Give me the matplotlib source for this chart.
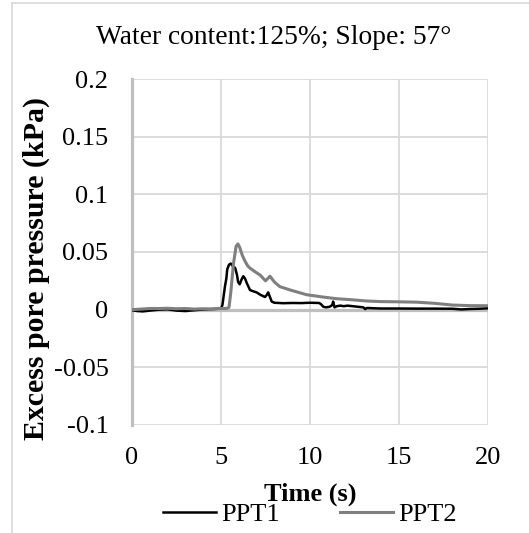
import matplotlib
matplotlib.use("Agg")
import matplotlib.pyplot as plt
from matplotlib.lines import Line2D

plt.rcParams['font.family'] = ['Liberation Serif', 'DejaVu Serif']

title = "Water content:125%; Slope: 57°"
xlabel = "Time (s)"
ylabel = "Excess pore pressure (kPa)"
xticks = [0, 5, 10, 15, 20]
yticks = [-0.1, -0.05, 0, 0.05, 0.1, 0.15, 0.2]
ytick_labels = ["-0.1", "-0.05", "0", "0.05", "0.1", "0.15", "0.2"]

ppt1_t = [0.0, 0.3, 0.6, 1.0, 1.5, 2.0, 2.5, 3.0, 3.5, 4.0, 4.5, 5.0, 5.08, 5.15, 5.22,
          5.3, 5.35, 5.45, 5.55, 5.65, 5.8, 5.9, 5.96, 6.05, 6.15, 6.25, 6.35, 6.45,
          6.63, 6.8, 7.0, 7.2, 7.47, 7.58, 7.65, 7.75, 7.85, 8.0, 8.5, 9.0, 9.5, 10.0,
          10.5, 10.6, 10.75, 10.9, 11.1, 11.25, 11.3, 11.38, 11.5, 11.7, 11.9, 12.1,
          12.4, 12.7, 13.0, 13.1, 13.2, 13.6, 14.0, 15.0, 16.0, 17.0, 18.0, 18.5,
          19.0, 19.5, 20.0]
ppt1_v = [-0.0005, -0.0012, -0.0015, -0.0008, 0.0, 0.0003, -0.0008, -0.0012, -0.0005,
          0.0002, 0.0005, 0.001, 0.004, 0.012, 0.02, 0.027, 0.035, 0.039, 0.040, 0.038,
          0.036, 0.03, 0.024, 0.022, 0.026, 0.029, 0.027, 0.023, 0.017, 0.016, 0.015,
          0.013, 0.011, 0.013, 0.015, 0.011, 0.007, 0.006, 0.0056, 0.0058, 0.0057,
          0.006, 0.0058, 0.005, 0.0025, 0.002, 0.0025, 0.004, 0.007, 0.002, 0.003,
          0.0035, 0.003, 0.0035, 0.003, 0.0025, 0.002, 0.0005, 0.0015, 0.0012, 0.001,
          0.001, 0.0009, 0.0009, 0.0008, 0.0002, 0.0006, 0.0008, 0.0012]

ppt2_t = [0.0, 0.5, 1.0, 1.5, 2.0, 2.5, 3.0, 3.5, 4.0, 4.5, 5.0, 5.3, 5.45, 5.55, 5.7,
          5.85, 5.95, 6.05, 6.2, 6.35, 6.5, 6.63, 6.9, 7.2, 7.5, 7.75, 8.0, 8.3, 8.9,
          9.8, 10.7, 11.5, 12.25, 13.2, 14.0, 15.0, 16.0, 17.0, 18.0, 19.0, 20.0]
ppt2_v = [0.0, 0.0005, 0.001, 0.001, 0.0012, 0.0008, 0.001, 0.0005, 0.0008, 0.0006,
          0.001, 0.001, 0.002, 0.015, 0.04, 0.055, 0.057, 0.054, 0.047, 0.042, 0.038,
          0.036, 0.033, 0.030, 0.025, 0.029, 0.024, 0.020, 0.017, 0.013, 0.011,
          0.0095, 0.0087, 0.0075, 0.007, 0.0068, 0.0065, 0.0055, 0.004, 0.0035, 0.0034]

W, H = 529, 533
fig = plt.figure(figsize=(W / 100, H / 100), dpi=100)
ax = fig.add_axes([132 / W, 1 - 425 / H, (488 - 132) / W, (425 - 79) / H])

grid_c = '#d9d9d9'
for yv in yticks:
    if yv != 0:
        ax.axhline(yv, color=grid_c, lw=1.3, zorder=0)
for xv in xticks[1:]:
    ax.axvline(xv, color=grid_c, lw=1.3, zorder=0)
ax.axhline(0, color='#bfbfbf', lw=2.3, zorder=1)

ax.plot(ppt1_t, ppt1_v, color='black', lw=1.8, label='PPT1', zorder=3)
ax.plot(ppt2_t, ppt2_v, color='#7f7f7f', lw=2.2, label='PPT2', zorder=3)

ax.set_xlim(0, 20)
ax.set_ylim(-0.1, 0.2)
ax.set_xticks(xticks)
ax.set_xticklabels([str(x) for x in xticks])
ax.set_yticks(yticks)
ax.set_yticklabels(ytick_labels)
ax.tick_params(axis='both', length=0, labelsize=19)
ax.tick_params(axis='x', pad=16)
ax.tick_params(axis='y', pad=17)
for s in ['top', 'right', 'bottom']:
    ax.spines[s].set_visible(False)
ax.spines['left'].set_color('#bfbfbf')
ax.spines['left'].set_linewidth(2.3)

ax.set_xlabel(xlabel, fontsize=19, fontweight='bold', labelpad=9.5)
ax.set_ylabel(ylabel, fontsize=21.5, fontweight='bold', va='center')
ax.yaxis.set_label_coords((36 - 132) / 356, (425 - 268) / 346)

fig.text((97 + 450) / 2 / W, 1 - 38 / H, title, fontsize=19.8, ha='center', va='center')

leg = fig.legend(loc='center', bbox_to_anchor=(310 / W, 1 - 514 / H), ncol=2,
                 frameon=False, fontsize=19, handlelength=2.0, handletextpad=0.2,
                 columnspacing=2.3, borderpad=0, borderaxespad=0)

# outer chart border
fig.add_artist(Line2D([12 / W, 12 / W], [0, 1 - 3 / H], transform=fig.transFigure,
                      color='#d9d9d9', lw=1.2))
fig.add_artist(Line2D([12 / W, 1], [1 - 3 / H, 1 - 3 / H], transform=fig.transFigure,
                      color='#d9d9d9', lw=1.2))

fig.savefig('out.png', dpi=100)
